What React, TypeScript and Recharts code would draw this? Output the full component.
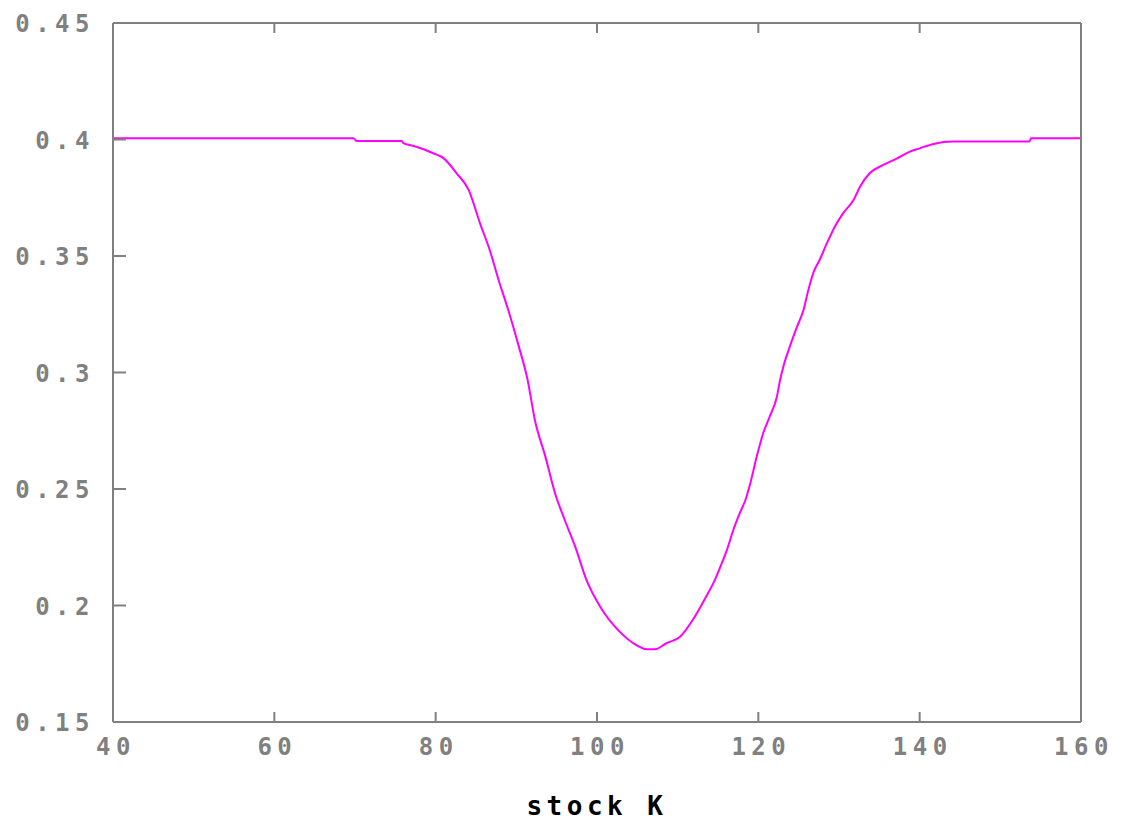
import { LineChart, Line, XAxis, YAxis } from 'recharts';

// strike values and the curve
const strikes = [
  40, 55, 69.8, 70.2, 75.8, 76, 77.2, 78.5, 79.7, 81, 82.6, 84.1, 85.5, 86.7,
  87.8, 89, 90.2, 91.4, 92.3, 93.6, 94.8, 96, 97.3, 98.7, 100.4, 102.8, 104.5,
  106.2, 107.2, 108.6, 110.3, 112, 113.4, 114.6, 115.3, 116.1, 116.9, 117.7,
  118.4, 119, 119.8, 120.6, 121.4, 122.3, 122.7, 123.1, 123.9, 124.8, 125.6,
  126.2, 126.8, 127.6, 128.5, 129.5, 130.5, 131.8, 132.6, 133.8, 135.5, 137.2,
  138.8, 140, 141.7, 144.2, 153.6, 153.8, 160,
];
const values = [
  0.4005, 0.4005, 0.4005, 0.3994, 0.3994, 0.3984, 0.3973, 0.3958, 0.3941,
  0.3919, 0.3855, 0.3783, 0.364, 0.3526, 0.3397, 0.3268, 0.3125, 0.2968,
  0.2796, 0.2639, 0.2482, 0.2367, 0.2253, 0.2109, 0.1995, 0.1888, 0.1838,
  0.1812, 0.1812, 0.1838, 0.1866, 0.1945, 0.203, 0.2109, 0.2167, 0.2238,
  0.2324, 0.2396, 0.2453, 0.2524, 0.2639, 0.2739, 0.281, 0.2896, 0.2968,
  0.3025, 0.3111, 0.3197, 0.3268, 0.3354, 0.3426, 0.3483, 0.3555, 0.3627,
  0.3683, 0.374, 0.3797, 0.3855, 0.3891, 0.3919, 0.3948, 0.3962, 0.3981,
  0.3991, 0.3991, 0.4005, 0.4005,
];
const xTicks = [40, 60, 80, 100, 120, 140, 160];
const yTicks = [0.15, 0.2, 0.25, 0.3, 0.35, 0.4, 0.45];

const data = strikes.map((k, i) => ({ k, v: values[i] }));

const GRAY = '#808080';
const FONT = '"DejaVu Sans Mono", monospace';

function BottomTick({ x, y, payload }: any) {
  return (
    <g>
      <line x1={x} y1={y} x2={x} y2={y - 10} stroke={GRAY} strokeWidth={2} />
      <text x={x + 3} y={y + 33} textAnchor="middle" fill={GRAY} fontFamily={FONT}
        fontWeight="bold" fontSize={24} letterSpacing={5.5}>
        {payload.value}
      </text>
    </g>
  );
}

function TopTick({ x, y }: any) {
  return <line x1={x} y1={y} x2={x} y2={y + 10} stroke={GRAY} strokeWidth={2} />;
}

function LeftTick({ x, y, payload }: any) {
  return (
    <g>
      <line x1={x} y1={y} x2={x + 13} y2={y} stroke={GRAY} strokeWidth={2} />
      <text x={x - 18} y={y + 9} textAnchor="end" fill={GRAY} fontFamily={FONT}
        fontWeight="bold" fontSize={24} letterSpacing={5.5}>
        {String(payload.value)}
      </text>
    </g>
  );
}

function RightTick({ x, y }: any) {
  return <line x1={x} y1={y} x2={x - 13} y2={y} stroke={GRAY} strokeWidth={2} />;
}

export default function App() {
  return (
    <div style={{ position: 'absolute', left: 0, top: 0, background: '#fff' }}>
      <LineChart width={1127} height={824} data={data}
        margin={{ top: 0, right: 0, bottom: 0, left: 0 }}>
        <XAxis xAxisId="b" dataKey="k" type="number" domain={[40, 160]} ticks={xTicks}
          height={102} tickSize={0} tickMargin={0} tickLine={false}
          axisLine={{ stroke: GRAY, strokeWidth: 2 }} tick={<BottomTick />}
          label={{ value: 'stock K', position: 'insideBottom', offset: 9, fill: '#000',
            fontFamily: FONT, fontWeight: 'bold', fontSize: 26, letterSpacing: 4.5 }} />
        <XAxis xAxisId="t" orientation="top" dataKey="k" type="number" domain={[40, 160]}
          ticks={xTicks} height={23} tickSize={0} tickMargin={0} tickLine={false}
          axisLine={{ stroke: GRAY, strokeWidth: 2 }} tick={<TopTick />} />
        <YAxis yAxisId="l" type="number" domain={[0.15, 0.45]} ticks={yTicks} width={113}
          tickSize={0} tickMargin={0} tickLine={false}
          axisLine={{ stroke: GRAY, strokeWidth: 2 }} tick={<LeftTick />} />
        <YAxis yAxisId="r" orientation="right" type="number" domain={[0.15, 0.45]}
          ticks={yTicks} width={46} tickSize={0} tickMargin={0} tickLine={false}
          axisLine={{ stroke: GRAY, strokeWidth: 2 }} tick={<RightTick />} />
        <Line xAxisId="b" yAxisId="l" type="monotone" dataKey="v" stroke="#ff00ff"
          strokeWidth={2} dot={false} isAnimationActive={false} />
      </LineChart>
    </div>
  );
}
